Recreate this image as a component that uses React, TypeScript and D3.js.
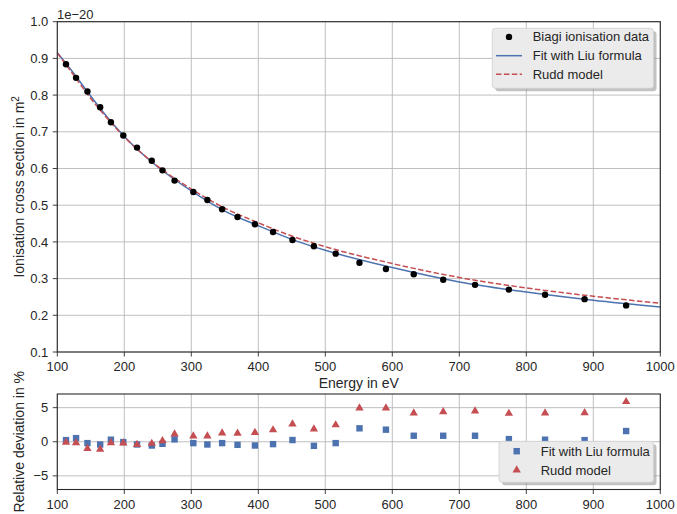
import React from "react";
import * as d3 from "d3";

const ENERGY = [113, 128, 145, 164, 180, 198.5, 219, 241, 257, 275, 303, 324, 346, 369, 395, 422, 451, 483, 515.5, 551, 590.5, 632, 676, 723.5, 774, 828, 887, 949];
const BIAGI = [0.884, 0.847, 0.81, 0.767, 0.726, 0.69, 0.657, 0.621, 0.595, 0.567, 0.536, 0.514, 0.489, 0.468, 0.448, 0.427, 0.405, 0.388, 0.368, 0.343, 0.326, 0.312, 0.297, 0.283, 0.27, 0.256, 0.244, 0.227];
const LIU_DEV = [0.24, 0.53, -0.2, -0.4, 0.3, -0.05, -0.4, -0.55, -0.3, 0.35, -0.2, -0.4, -0.2, -0.45, -0.55, -0.35, 0.25, -0.6, -0.2, 1.97, 1.77, 0.88, 0.88, 0.88, 0.39, 0.3, 0.24, 1.57];
const RUDD_DEV = [-0.1, -0.15, -0.99, -1.1, -0.15, -0.2, -0.4, -0.25, 0.15, 1.13, 0.84, 0.84, 1.28, 1.23, 1.33, 1.73, 2.6, 1.87, 2.46, 4.93, 4.93, 4.19, 4.39, 4.49, 4.15, 4.19, 4.24, 5.87];

const CURVE_E = [100, 125, 150, 175, 200, 250, 300, 350, 400, 450, 500, 600, 700, 800, 900, 1000];
const LIU_FIT = [0.9155, 0.858, 0.797, 0.739, 0.687, 0.604, 0.539, 0.484, 0.444, 0.407, 0.377, 0.33, 0.291, 0.2635, 0.241, 0.2224];
const RUDD = [0.915, 0.853, 0.7906, 0.7355, 0.686, 0.606, 0.544, 0.492, 0.452, 0.416, 0.387, 0.341, 0.303, 0.2745, 0.252, 0.2327];

const X_TICKS = [100, 200, 300, 400, 500, 600, 700, 800, 900, 1000];
const TOP_Y_TICKS = [0.1, 0.2, 0.3, 0.4, 0.5, 0.6, 0.7, 0.8, 0.9, 1.0];
const BOT_Y_TICKS = [-5, 0, 5];

const BLUE = "#4c72b0";
const RED = "#c44e52";
const FONT = "'Liberation Sans', Arial, sans-serif";
const GRID = "#b8b8b8";
const SPINE = "#2a2a2a";

export default function App() {
  const W = 677, H = 514;
  const L = 57.3, R = 660.3;
  const TT = 21.7, TB = 352;
  const BT = 394, BB = 489.5;

  const x = d3.scaleLinear().domain([100, 1000]).range([L, R]);
  const yTop = d3.scaleLinear().domain([0.1, 1.0]).range([TB, TT]);
  const yBot = d3.scaleLinear().domain([-7, 7]).range([BB, BT]);

  const liuLine = d3.line<number>().x((_, i) => x(CURVE_E[i])).y((d) => yTop(d)).curve(d3.curveMonotoneX)(LIU_FIT) || "";
  const ruddLine = d3.line<number>().x((_, i) => x(CURVE_E[i])).y((d) => yTop(d)).curve(d3.curveMonotoneX)(RUDD) || "";
  const tri = d3.symbol().type(d3.symbolTriangle).size(30)() || "";

  const fmtTop = (v: number) => v.toFixed(1);
  const fmtBot = (v: number) => (v < 0 ? "\u2212" + Math.abs(v) : String(v));

  const renderAxes = (top: number, bottom: number, yScale: any, yTicks: number[], fmt: (v: number) => string) => (
    <g>
      {X_TICKS.map((t) => (
        <line key={"gx" + t} x1={x(t)} x2={x(t)} y1={top} y2={bottom} stroke={GRID} strokeWidth={0.9} />
      ))}
      {yTicks.map((t) => (
        <line key={"gy" + t} x1={L} x2={R} y1={yScale(t)} y2={yScale(t)} stroke={GRID} strokeWidth={0.9} />
      ))}
    </g>
  );

  const renderFrame = (top: number, bottom: number, yScale: any, yTicks: number[], fmt: (v: number) => string) => (
    <g>
      <rect x={L} y={top} width={R - L} height={bottom - top} fill="none" stroke={SPINE} strokeWidth={1.1} />
      {X_TICKS.map((t) => (
        <g key={"tx" + t}>
          <line x1={x(t)} x2={x(t)} y1={bottom} y2={bottom + 4.5} stroke={SPINE} strokeWidth={0.9} />
          <text x={x(t)} y={bottom + 19} textAnchor="middle" fontSize={13} fill="#262626" fontFamily={FONT}>{t}</text>
        </g>
      ))}
      {yTicks.map((t) => (
        <g key={"ty" + t}>
          <line x1={L - 4.5} x2={L} y1={yScale(t)} y2={yScale(t)} stroke={SPINE} strokeWidth={0.9} />
          <text x={L - 9} y={yScale(t) + 4.6} textAnchor="end" fontSize={13} fill="#262626" fontFamily={FONT}>{fmt(t)}</text>
        </g>
      ))}
    </g>
  );

  return (
    <svg width={W} height={H} style={{ position: "absolute", left: 0, top: 0, background: "#fff" }} fontFamily={FONT}>
      <defs>
        <clipPath id="clipTop"><rect x={L} y={TT} width={R - L} height={TB - TT} /></clipPath>
        <clipPath id="clipBot"><rect x={L} y={BT} width={R - L} height={BB - BT} /></clipPath>
      </defs>
      <rect x={0} y={0} width={W} height={H} fill="#fff" />

      {/* top panel */}
      {renderAxes(TT, TB, yTop, TOP_Y_TICKS, fmtTop)}
      <g clipPath="url(#clipTop)">
        <path d={liuLine} fill="none" stroke={BLUE} strokeWidth={1.5} />
        <path d={ruddLine} fill="none" stroke={RED} strokeWidth={1.5} strokeDasharray="5.5,2.4" />
        {BIAGI.map((v, i) => (
          <circle key={"b" + i} cx={x(ENERGY[i])} cy={yTop(v)} r={3.2} fill="#000" />
        ))}
      </g>
      {renderFrame(TT, TB, yTop, TOP_Y_TICKS, fmtTop)}
      <text x={57} y={18.5} fontSize={13} fill="#262626">1e{"\u2212"}20</text>
      <text x={358.8} y={388} textAnchor="middle" fontSize={14} fill="#262626">Energy in eV</text>
      <text transform={`translate(24,${(TT + TB) / 2}) rotate(-90)`} textAnchor="middle" fontSize={14} fill="#262626">
        Ionisation cross section in m<tspan dy={-5} fontSize={10}>2</tspan>
      </text>

      {/* top legend */}
      <g>
        <rect x={495.3} y={31.3} width={161.2} height={60} rx={3} fill="#9a9a9a" opacity={0.6} />
        <rect x={492.3} y={28.3} width={161.2} height={60} rx={3} fill="#ebebeb" stroke="#d0d0d0" strokeWidth={0.8} />
        <circle cx={509} cy={36.9} r={3.2} fill="#000" />
        <text x={532.7} y={41.4} fontSize={13} fill="#262626">Biagi ionisation data</text>
        <line x1={496} x2={522} y1={55.7} y2={55.7} stroke={BLUE} strokeWidth={1.5} />
        <text x={532.7} y={60.2} fontSize={13} fill="#262626">Fit with Liu formula</text>
        <line x1={496} x2={522} y1={74.3} y2={74.3} stroke={RED} strokeWidth={1.5} strokeDasharray="5.5,2.4" />
        <text x={532.7} y={78.8} fontSize={13} fill="#262626">Rudd model</text>
      </g>

      {/* bottom panel */}
      {renderAxes(BT, BB, yBot, BOT_Y_TICKS, fmtBot)}
      <g clipPath="url(#clipBot)">
        {LIU_DEV.map((v, i) => (
          <rect key={"s" + i} x={x(ENERGY[i]) - 3.2} y={yBot(v) - 3.2} width={6.4} height={6.4} fill={BLUE} />
        ))}
        {RUDD_DEV.map((v, i) => (
          <path key={"t" + i} d={tri} transform={`translate(${x(ENERGY[i])},${yBot(v)})`} fill={RED} />
        ))}
      </g>
      {/* bottom legend */}
      <g>
        <rect x={502} y={444.3} width={154.5} height={41} rx={3} fill="#9a9a9a" opacity={0.6} />
        <rect x={499} y={441.3} width={154.5} height={41} rx={3} fill="#ebebeb" stroke="#d0d0d0" strokeWidth={0.8} />
        <rect x={516.7 - 3.2} y={451.2 - 3.2} width={6.4} height={6.4} fill={BLUE} />
        <text x={540.7} y={455.7} fontSize={13} fill="#262626">Fit with Liu formula</text>
        <path d={tri} transform={`translate(516.7,470)`} fill={RED} />
        <text x={540.7} y={474.6} fontSize={13} fill="#262626">Rudd model</text>
      </g>
      {renderFrame(BT, BB, yBot, BOT_Y_TICKS, fmtBot)}
      <text transform={`translate(24,${(BT + BB) / 2}) rotate(-90)`} textAnchor="middle" fontSize={14} fill="#262626">
        Relative deviation in %
      </text>
    </svg>
  );
}
